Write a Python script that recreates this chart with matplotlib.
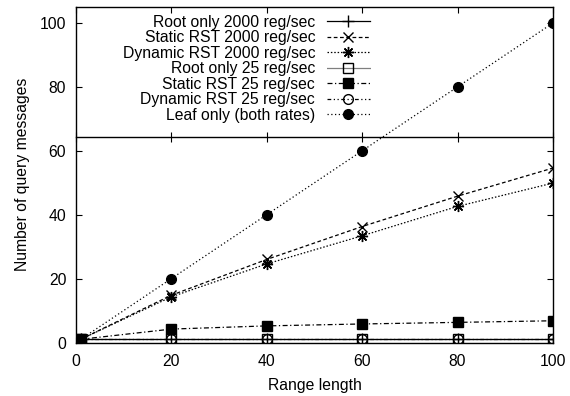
import matplotlib
matplotlib.use('Agg')
import matplotlib.pyplot as plt

plt.rcParams['font.family'] = ['Liberation Sans', 'DejaVu Sans']
plt.rcParams['font.size'] = 11.3

x = [1, 20, 40, 60, 80, 100]
root_2000 = [1, 1, 1, 1, 1, 1]
static_2000 = [1, 14.8, 26, 36.3, 45.8, 54.6]
dynamic_2000 = [1, 14.3, 24.6, 33.4, 42.6, 49.9]
root_25 = [1, 1, 1, 1, 1, 1]
static_25 = [1, 4.2, 5.2, 5.8, 6.3, 6.8]
dynamic_25 = [1, 1, 1, 1, 1, 1]
leaf = [1, 20, 40, 60, 80, 100]

labels = ['Root only 2000 reg/sec', 'Static RST 2000 reg/sec', 'Dynamic RST 2000 reg/sec',
          'Root only 25 reg/sec', 'Static RST 25 reg/sec', 'Dynamic RST 25 reg/sec',
          'Leaf only (both rates)']

fig = plt.figure(figsize=(5.7, 3.96), dpi=100)
ax = fig.add_axes([0.1333, 0.1351, 0.8368, 0.8472])

lw = 0.9
ax.plot(x, root_2000, color='k', lw=lw, ls='-', marker='+', ms=8, mew=1, label=labels[0])
ax.plot(x, static_2000, color='k', lw=lw, ls=(0, (3, 2)), marker='x', ms=7.5, mew=1,
        label=labels[1])
ax.plot(x, dynamic_2000, color='k', lw=lw, ls=(0, (1.2, 1.5)), marker=(8, 2, 0), ms=8,
        mew=1, label=labels[2])
ax.plot(x, root_25, color='k', lw=lw, ls=(0, (0.8, 0.8)), marker='s', ms=7, mfc='none',
        mew=1, label=labels[3])
ax.plot(x, static_25, color='k', lw=lw, ls=(0, (4, 2, 1, 2)), marker='s', ms=7, mfc='k',
        label=labels[4])
ax.plot(x, dynamic_25, color='k', lw=lw, ls=(0, (3, 2, 1, 2, 1, 2)), marker='o', ms=7,
        mfc='none', mew=1, label=labels[5])
ax.plot(x, leaf, color='k', lw=lw, ls=(0, (1, 2)), marker='o', ms=7, mfc='k',
        label=labels[6])

ax.set_xlim(0, 100)
ax.set_ylim(0, 105)
ax.set_xticks([0, 20, 40, 60, 80, 100])
ax.set_yticks([0, 20, 40, 60, 80, 100])
ax.tick_params(direction='in', length=4, width=0.8, top=True, right=True)
ax.tick_params(axis='x', pad=8)
ax.tick_params(axis='y', pad=7)
for s in ax.spines.values():
    s.set_linewidth(1)

# extra horizontal axis line across the plot
mid = ax.secondary_xaxis(64.2 / 105)
mid.set_xticks([0, 20, 40, 60, 80, 100])
mid.tick_params(direction='inout', length=7, width=0.8, labeltop=False, labelbottom=False)
mid.spines['top'].set_linewidth(1)
mid.spines['bottom'].set_linewidth(1)

ax.set_xlabel('Range length', labelpad=7)
ax.set_ylabel('Number of query messages', labelpad=7)

leg = ax.legend(loc='upper right', bbox_to_anchor=(0.633, 1.0), frameon=False,
                markerfirst=False, handlelength=2.75, handletextpad=0.75,
                labelspacing=0.03, borderaxespad=0.1, fontsize=11.3)

fig.savefig('out.png', dpi=100)
